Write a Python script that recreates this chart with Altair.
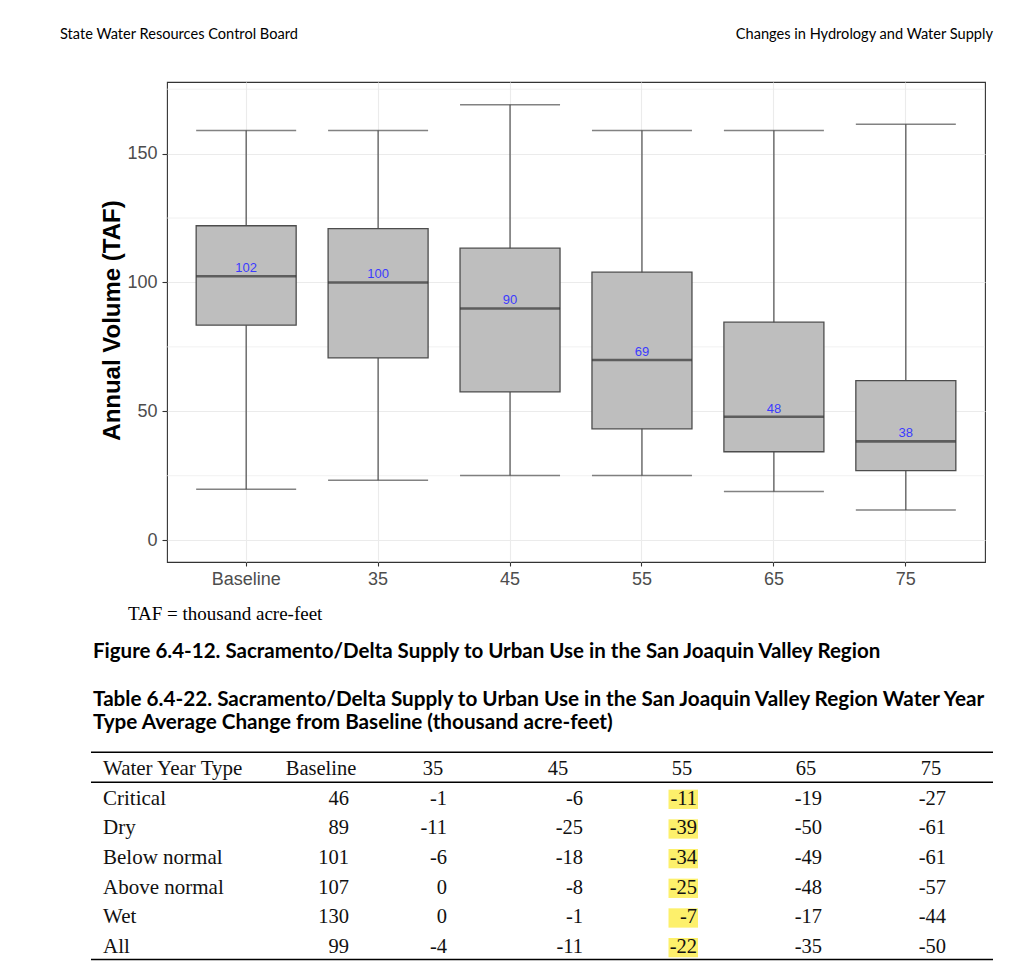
import altair as alt
import pandas as pd

# ---------------- data ----------------
SCENARIOS = ["Baseline", "35", "45", "55", "65", "75"]
WHISKER_LOW = [19.7, 23.2, 25.1, 25.1, 18.9, 11.7]
Q1 = [83.4, 70.7, 57.5, 43.2, 34.3, 27.0]
MEDIAN = [102.4, 100.0, 89.9, 69.9, 47.9, 38.3]
Q3 = [122.0, 120.9, 113.3, 104.0, 84.6, 61.9]
WHISKER_HIGH = [159.0, 159.0, 169.0, 159.0, 159.0, 161.4]
MEDIAN_LABELS = ["102", "100", "90", "69", "48", "38"]
MINOR_GRID = [25, 75, 125, 175]

TABLE_FIRST_HEADER = "Water Year Type"
TABLE_COLUMNS = ["Baseline", "35", "45", "55", "65", "75"]
WATER_YEAR_TYPES = ["Critical", "Dry", "Below normal", "Above normal", "Wet", "All"]
COL_BASELINE = [46, 89, 101, 107, 130, 99]
COL_35 = [-1, -11, -6, 0, 0, -4]
COL_45 = [-6, -25, -18, -8, -1, -11]
COL_55 = [-11, -39, -34, -25, -7, -22]
COL_65 = [-19, -50, -49, -48, -17, -35]
COL_75 = [-27, -61, -61, -57, -44, -50]
HIGHLIGHT_COLUMN = "55"

HEADER_LEFT = "State Water Resources Control Board"
HEADER_RIGHT = "Changes in Hydrology and Water Supply"
Y_TITLE = "Annual Volume (TAF)"
NOTE = "TAF = thousand acre-feet"
FIG_CAPTION = "Figure 6.4-12. Sacramento/Delta Supply to Urban Use in the San Joaquin Valley Region"
TABLE_TITLE_1 = "Table 6.4-22. Sacramento/Delta Supply to Urban Use in the San Joaquin Valley Region Water Year"
TABLE_TITLE_2 = "Type Average Change from Baseline (thousand acre-feet)"

# ---------------- layout / style ----------------
W, H = 818, 480
SANS = "Liberation Sans"
SERIF = "Liberation Serif"
CAL = "Lato"
GRID = "#ebebeb"
LINE = "#4d4d4d"
TFS = 20.5  # table font size

box_df = pd.DataFrame({
    "scenario": SCENARIOS, "lo": WHISKER_LOW, "q1": Q1, "med": MEDIAN,
    "q3": Q3, "hi": WHISKER_HIGH, "label": MEDIAN_LABELS,
})

xs = alt.Scale(type="band", domain=SCENARIOS, paddingInner=0, paddingOuter=0.1)
ys = alt.Scale(domain=[-8.5, 177.8], nice=False, zero=False)

xaxis = alt.Axis(grid=True, gridColor=GRID, gridWidth=1.1, bandPosition=0.5,
                 domain=False, tickColor="#333333", tickSize=4, tickWidth=1.1,
                 labelAngle=0, labelFont=SANS, labelFontSize=18,
                 labelColor=LINE, labelPadding=4)
yaxis = alt.Axis(values=[0, 50, 100, 150], grid=True, gridColor=GRID, gridWidth=1.1,
                 domain=False, tickColor="#333333", tickSize=5, tickWidth=1.1,
                 labelFont=SANS, labelFontSize=18, labelColor=LINE, labelPadding=5,
                 titleFont=SANS, titleFontSize=24, titleFontWeight="bold",
                 titleColor="#000000", titleAngle=-90, titleX=-55, titleY=238,
                 titleAlign="center", titleBaseline="middle")


def XE():
    return alt.X("scenario:N", scale=xs, title=None, sort=SCENARIOS, axis=xaxis)


def YE(field):
    return alt.Y(field, scale=ys, title=Y_TITLE, axis=yaxis)


minor = alt.Chart(pd.DataFrame({"v": MINOR_GRID})).mark_rule(
    color=GRID, strokeWidth=0.7).encode(y=YE("v:Q"))

whisk = alt.Chart(box_df).mark_rule(color=LINE, strokeWidth=1.2).encode(
    x=XE(), y=YE("lo:Q"), y2="hi:Q")
cap_lo = alt.Chart(box_df).mark_tick(color=LINE, thickness=1.5, size=100).encode(
    x=XE(), y=YE("lo:Q"))
cap_hi = alt.Chart(box_df).mark_tick(color=LINE, thickness=1.5, size=100).encode(
    x=XE(), y=YE("hi:Q"))
box = alt.Chart(box_df).mark_bar(size=100, fill="#bebebe", stroke=LINE,
                                 strokeWidth=1.3).encode(
    x=XE(), y=YE("q1:Q"), y2="q3:Q")
med = alt.Chart(box_df).mark_tick(color="#333333", thickness=2.6, size=100).encode(
    x=XE(), y=YE("med:Q"))
lab = alt.Chart(box_df).mark_text(font=SANS, fontSize=13, color="#3b3bff",
                                  baseline="alphabetic", dy=-4).encode(
    x=XE(), y=YE("med:Q"), text="label:N")

boxplot = alt.layer(minor, whisk, cap_lo, cap_hi, box, med, lab)

# ---------------- table ----------------
cols_vals = [COL_BASELINE, COL_35, COL_45, COL_55, COL_65, COL_75]
rows = []
for r, name in enumerate(WATER_YEAR_TYPES):
    for c, cname in enumerate(TABLE_COLUMNS):
        rows.append({"row": r + 1, "col": c + 1, "colname": cname,
                     "txt": str(cols_vals[c][r])})
tab_df = pd.DataFrame(rows)
head_df = pd.DataFrame({"col": list(range(1, 7)), "txt": TABLE_COLUMNS, "row": 0})
rowlab_df = pd.DataFrame({"row": list(range(0, 7)),
                          "txt": [TABLE_FIRST_HEADER] + WATER_YEAR_TYPES})

row_scale = alt.Scale(domain=[0, 6], range=[693, 871], nice=False, zero=False)
val_xscale = alt.Scale(domain=[1, 2, 3, 4, 5, 6], range=[182, 280, 416, 530, 655, 779],
                       nice=False, zero=False)
head_xscale = alt.Scale(domain=[1, 2, 3, 4, 5, 6], range=[154, 266, 391, 515, 639, 764],
                        nice=False, zero=False)

hl = alt.Chart(tab_df).transform_filter(
    alt.datum.colname == HIGHLIGHT_COLUMN
).transform_calculate(
    x1="datum.col - 0.25", x2="datum.col + 0.008",
    y1="datum.row - 0.506", y2="datum.row + 0.145"
).mark_rect(color="#fdf06b").encode(
    x=alt.X("x1:Q", scale=val_xscale, axis=None), x2="x2:Q",
    y=alt.Y("y1:Q", scale=row_scale, axis=None), y2="y2:Q")

vals = alt.Chart(tab_df).mark_text(font=SERIF, fontSize=TFS, align="right",
                                   baseline="alphabetic", color="#111111").encode(
    x=alt.X("col:Q", scale=val_xscale, axis=None),
    y=alt.Y("row:Q", scale=row_scale, axis=None), text="txt:N")

heads = alt.Chart(head_df).mark_text(font=SERIF, fontSize=TFS, align="center",
                                     baseline="alphabetic", color="#111111").encode(
    x=alt.X("col:Q", scale=head_xscale, axis=None),
    y=alt.Y("row:Q", scale=row_scale, axis=None), text="txt:N")

rowlabs = alt.Chart(rowlab_df).mark_text(font=SERIF, fontSize=21, align="left",
                                         baseline="alphabetic", color="#111111").encode(
    x=alt.value(-64),
    y=alt.Y("row:Q", scale=row_scale, axis=None), text="txt:N")

RULE_ROWS = [-0.765, 0.246, 6.218]
rules = alt.Chart(pd.DataFrame({"r": RULE_ROWS})).mark_rule(
    color="#000000", strokeWidth=1.6).encode(
    y=alt.Y("r:Q", scale=row_scale, axis=None), x=alt.value(-76), x2=alt.value(826))

# ---------------- page text ----------------
def note(txt, x, y, font, size, weight="normal", align="left"):
    return alt.Chart(pd.DataFrame({"t": [txt]})).mark_text(
        font=font, fontSize=size, fontWeight=weight, align=align,
        baseline="alphabetic", color="#000000").encode(
        x=alt.value(x), y=alt.value(y), text="t:N")

texts = [
    note(HEADER_LEFT, -107, -43, CAL, 14.6),
    note(HEADER_RIGHT, 826, -43, CAL, 14.6, align="right"),
    note(NOTE, -39, 538, SERIF, 19),
    note(FIG_CAPTION, -74, 576, CAL, 20.5, weight="bold"),
    note(TABLE_TITLE_1, -74, 624, CAL, 20.7, weight="bold"),
    note(TABLE_TITLE_2, -74, 647, CAL, 20.7, weight="bold"),
]

chart = alt.layer(boxplot, hl, vals, heads, rowlabs, rules, *texts).resolve_scale(
    x="independent", y="independent"
).properties(
    width=W, height=H,
    autosize=alt.AutoSizeParams(type="none"),
    padding={"left": 159, "top": 74, "right": 17, "bottom": 399},
    background="white",
).configure_view(stroke="#333333", strokeWidth=1.1)

chart.save("out.html", embed_options={"renderer": "svg", "actions": False})
